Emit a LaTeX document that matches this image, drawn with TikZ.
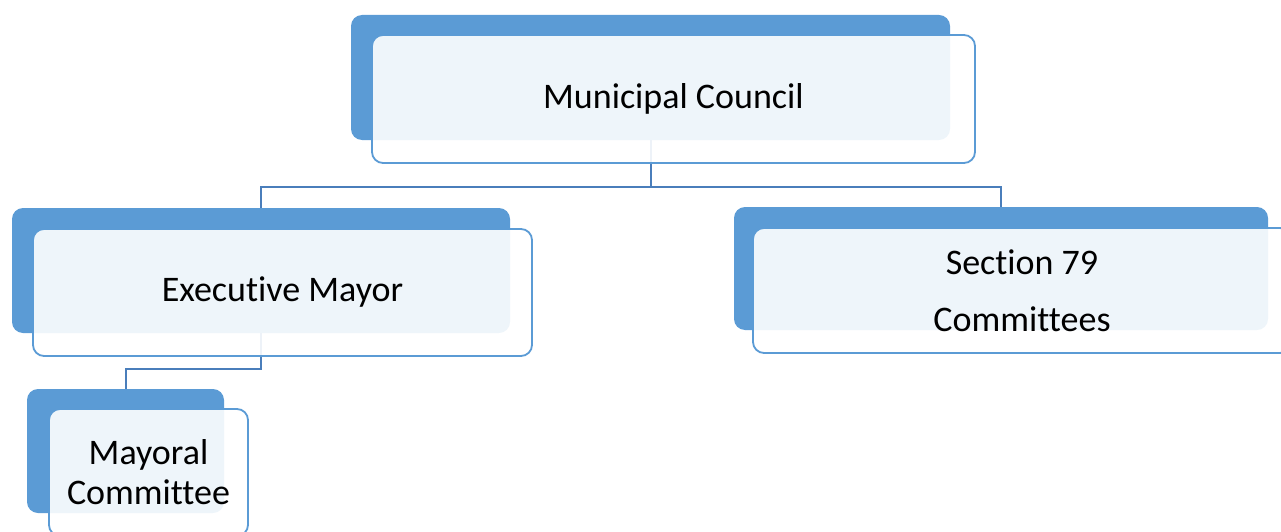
\documentclass[tikz,border=0pt]{standalone}
\usepackage{fontspec}
\setmainfont{Carlito}[Ligatures={NoCommon}]
\definecolor{accent}{HTML}{5B9BD5}
\definecolor{linkline}{HTML}{4A7EBB}
\begin{document}
\begin{tikzpicture}[x=1pt,y=-1pt,
  backbox/.style={rectangle,rounded corners=11pt,fill=accent,draw=none,inner sep=0pt},
  frontbox/.style={rectangle,rounded corners=11pt,fill=white,fill opacity=0.9,text opacity=1,
    draw=accent,line width=1.8pt,inner sep=0pt,align=center,
    font=\fontsize{36}{40}\selectfont},
  link/.style={draw=linkline,line width=2pt}]
\path[use as bounding box] (0,0) rectangle (1281,532);

% back plates
\node[backbox,minimum width=599pt,minimum height=125pt] (mcb) at (650.5,77.5) {};
\node[backbox,minimum width=498pt,minimum height=125pt] (emb) at (261,270.5) {};
\node[backbox,minimum width=534pt,minimum height=123pt] (scb) at (1001,268.5) {};
\node[backbox,minimum width=197pt,minimum height=124pt] (mcmb) at (125.5,451) {};

% connectors between the plates
\draw[link] (mcb.south) -- ++(0,47) coordinate (split) -| (emb.north);
\draw[link] (split) -| (scb.north);
\draw[link] (emb.south) -- ++(0,36) -| (mcmb.north);

% front cards with labels
\node[frontbox,minimum width=603pt,minimum height=128pt] (mc) at (673.5,99)
  {\raisebox{-2pt}{Municipal Council}};
\node[frontbox,minimum width=499pt,minimum height=127pt] (em) at (282.5,292.5)
  {\raisebox{-2pt}{Executive Mayor}};
\node[frontbox,minimum width=538pt,minimum height=125pt] (sc) at (1022,290.5)
  {Section 79\\[17pt]Committees};
\node[frontbox,minimum width=199pt,minimum height=127pt] (mcm) at (148.5,472.5)
  {Mayoral\\Committee};
\end{tikzpicture}
\end{document}
